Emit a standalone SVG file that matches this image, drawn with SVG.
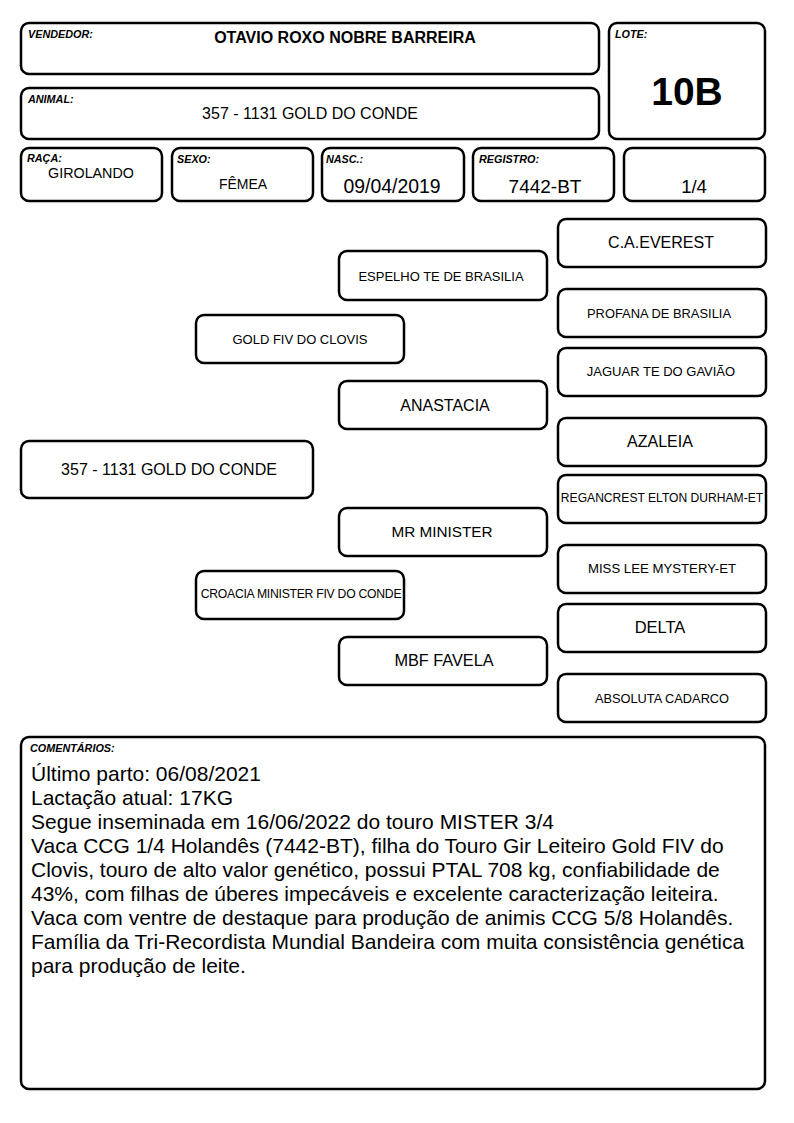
<svg xmlns="http://www.w3.org/2000/svg" width="794" height="1123" viewBox="0 0 794 1123">
<style>
.b{fill:#fff;stroke:#000;stroke-width:2.5}
text{font-family:"Liberation Sans",Arial,sans-serif;fill:#000}
.lbl{font-size:10.8px;font-weight:bold;font-style:italic}
.c{text-anchor:middle}
.cm{font-size:21px}
</style>
<rect width="794" height="1123" fill="#fff"/>
<g id="vendedor"><rect class="b" x="21" y="23" width="578" height="51" rx="8"/><text class="lbl" x="28" y="38">VENDEDOR:</text><text class="c" x="345" y="43" font-size="16" font-weight="bold">OTAVIO ROXO NOBRE BARREIRA</text></g>
<g id="animal"><rect class="b" x="21" y="88" width="578" height="51" rx="8"/><text class="lbl" x="28" y="103">ANIMAL:</text><text class="c" x="310" y="119" font-size="16">357 - 1131 GOLD DO CONDE</text></g>
<g id="lote"><rect class="b" x="609" y="23" width="156" height="116" rx="8"/><text class="lbl" x="615" y="38">LOTE:</text><text class="c" x="687" y="105" font-size="39" font-weight="bold">10B</text></g>
<g id="raca"><rect class="b" x="21" y="148" width="141" height="53" rx="8"/><text class="lbl" x="27" y="162">RAÇA:</text><text class="c" x="91" y="178" font-size="14.3">GIROLANDO</text></g>
<g id="sexo"><rect class="b" x="172" y="148" width="141" height="53" rx="8"/><text class="lbl" x="177" y="163">SEXO:</text><text class="c" x="243" y="189" font-size="14">FÊMEA</text></g>
<g id="nasc"><rect class="b" x="322" y="148" width="142" height="53" rx="8"/><text class="lbl" x="326" y="163">NASC.:</text><text class="c" x="392" y="193" font-size="19.4">09/04/2019</text></g>
<g id="registro"><rect class="b" x="473" y="148" width="141" height="53" rx="8"/><text class="lbl" x="479" y="163">REGISTRO:</text><text class="c" x="545" y="193" font-size="19">7442-BT</text></g>
<g id="grau"><rect class="b" x="624" y="148" width="141" height="53" rx="8"/><text class="c" x="694" y="193" font-size="18.5">1/4</text></g>

<g id="everest"><rect class="b" x="558" y="219" width="208" height="48" rx="8"/><text class="c" x="661" y="248" font-size="16">C.A.EVEREST</text></g>
<g id="espelho"><rect class="b" x="339" y="251" width="208" height="49" rx="8"/><text class="c" x="441" y="281" font-size="13">ESPELHO TE DE BRASILIA</text></g>
<g id="profana"><rect class="b" x="558" y="289" width="208" height="48" rx="8"/><text class="c" x="659" y="318" font-size="12.9">PROFANA DE BRASILIA</text></g>
<g id="goldfiv"><rect class="b" x="196" y="315" width="208" height="48" rx="8"/><text class="c" x="300" y="344" font-size="13">GOLD FIV DO CLOVIS</text></g>
<g id="jaguar"><rect class="b" x="558" y="348" width="208" height="48" rx="8"/><text class="c" x="661" y="376" font-size="13">JAGUAR TE DO GAVIÃO</text></g>
<g id="anastacia"><rect class="b" x="339" y="381" width="208" height="48" rx="8"/><text class="c" x="445" y="411" font-size="16">ANASTACIA</text></g>
<g id="azaleia"><rect class="b" x="558" y="418" width="208" height="48" rx="8"/><text class="c" x="660" y="447" font-size="16">AZALEIA</text></g>
<g id="main"><rect class="b" x="21" y="441" width="292" height="57" rx="8"/><text class="c" x="169" y="475" font-size="16">357 - 1131 GOLD DO CONDE</text></g>
<g id="regancrest"><rect class="b" x="558" y="475" width="208" height="48" rx="8"/><text class="c" x="662" y="502" font-size="12.1">REGANCREST ELTON DURHAM-ET</text></g>
<g id="mrminister"><rect class="b" x="339" y="508" width="208" height="48" rx="8"/><text class="c" x="442" y="537" font-size="15.3">MR MINISTER</text></g>
<g id="misslee"><rect class="b" x="558" y="545" width="208" height="48" rx="8"/><text class="c" x="662" y="573" font-size="13.2">MISS LEE MYSTERY-ET</text></g>
<g id="croacia"><rect class="b" x="196" y="571" width="208" height="48" rx="8"/><text class="c" x="301" y="598" font-size="12.2" letter-spacing="-0.25">CROACIA MINISTER FIV DO CONDE</text></g>
<g id="delta"><rect class="b" x="558" y="604" width="208" height="48" rx="8"/><text class="c" x="660" y="633" font-size="16.5">DELTA</text></g>
<g id="mbf"><rect class="b" x="339" y="637" width="208" height="48" rx="8"/><text class="c" x="444" y="666" font-size="16.3">MBF FAVELA</text></g>
<g id="absoluta"><rect class="b" x="558" y="674" width="208" height="48" rx="8"/><text class="c" x="662" y="703" font-size="12.8">ABSOLUTA CADARCO</text></g>

<g id="connectors"></g>

<g id="comentarios"><rect class="b" x="21" y="737" width="744" height="352" rx="8"/><text class="lbl" x="30" y="752">COMENTÁRIOS:</text>
<text class="cm" x="31" y="781">Último parto: 06/08/2021</text>
<text class="cm" x="31" y="805">Lactação atual: 17KG</text>
<text class="cm" x="31" y="829">Segue inseminada em 16/06/2022 do touro MISTER 3/4</text>
<text class="cm" x="31" y="853">Vaca CCG 1/4 Holandês (7442-BT), filha do Touro Gir Leiteiro Gold FIV do</text>
<text class="cm" x="31" y="877">Clovis, touro de alto valor genético, possui PTAL 708 kg, confiabilidade de</text>
<text class="cm" x="31" y="901">43%, com filhas de úberes impecáveis e excelente caracterização leiteira.</text>
<text class="cm" x="31" y="925">Vaca com ventre de destaque para produção de animis CCG 5/8 Holandês.</text>
<text class="cm" x="31" y="949">Família da Tri-Recordista Mundial Bandeira com muita consistência genética</text>
<text class="cm" x="31" y="973">para produção de leite.</text>
</g>
</svg>
